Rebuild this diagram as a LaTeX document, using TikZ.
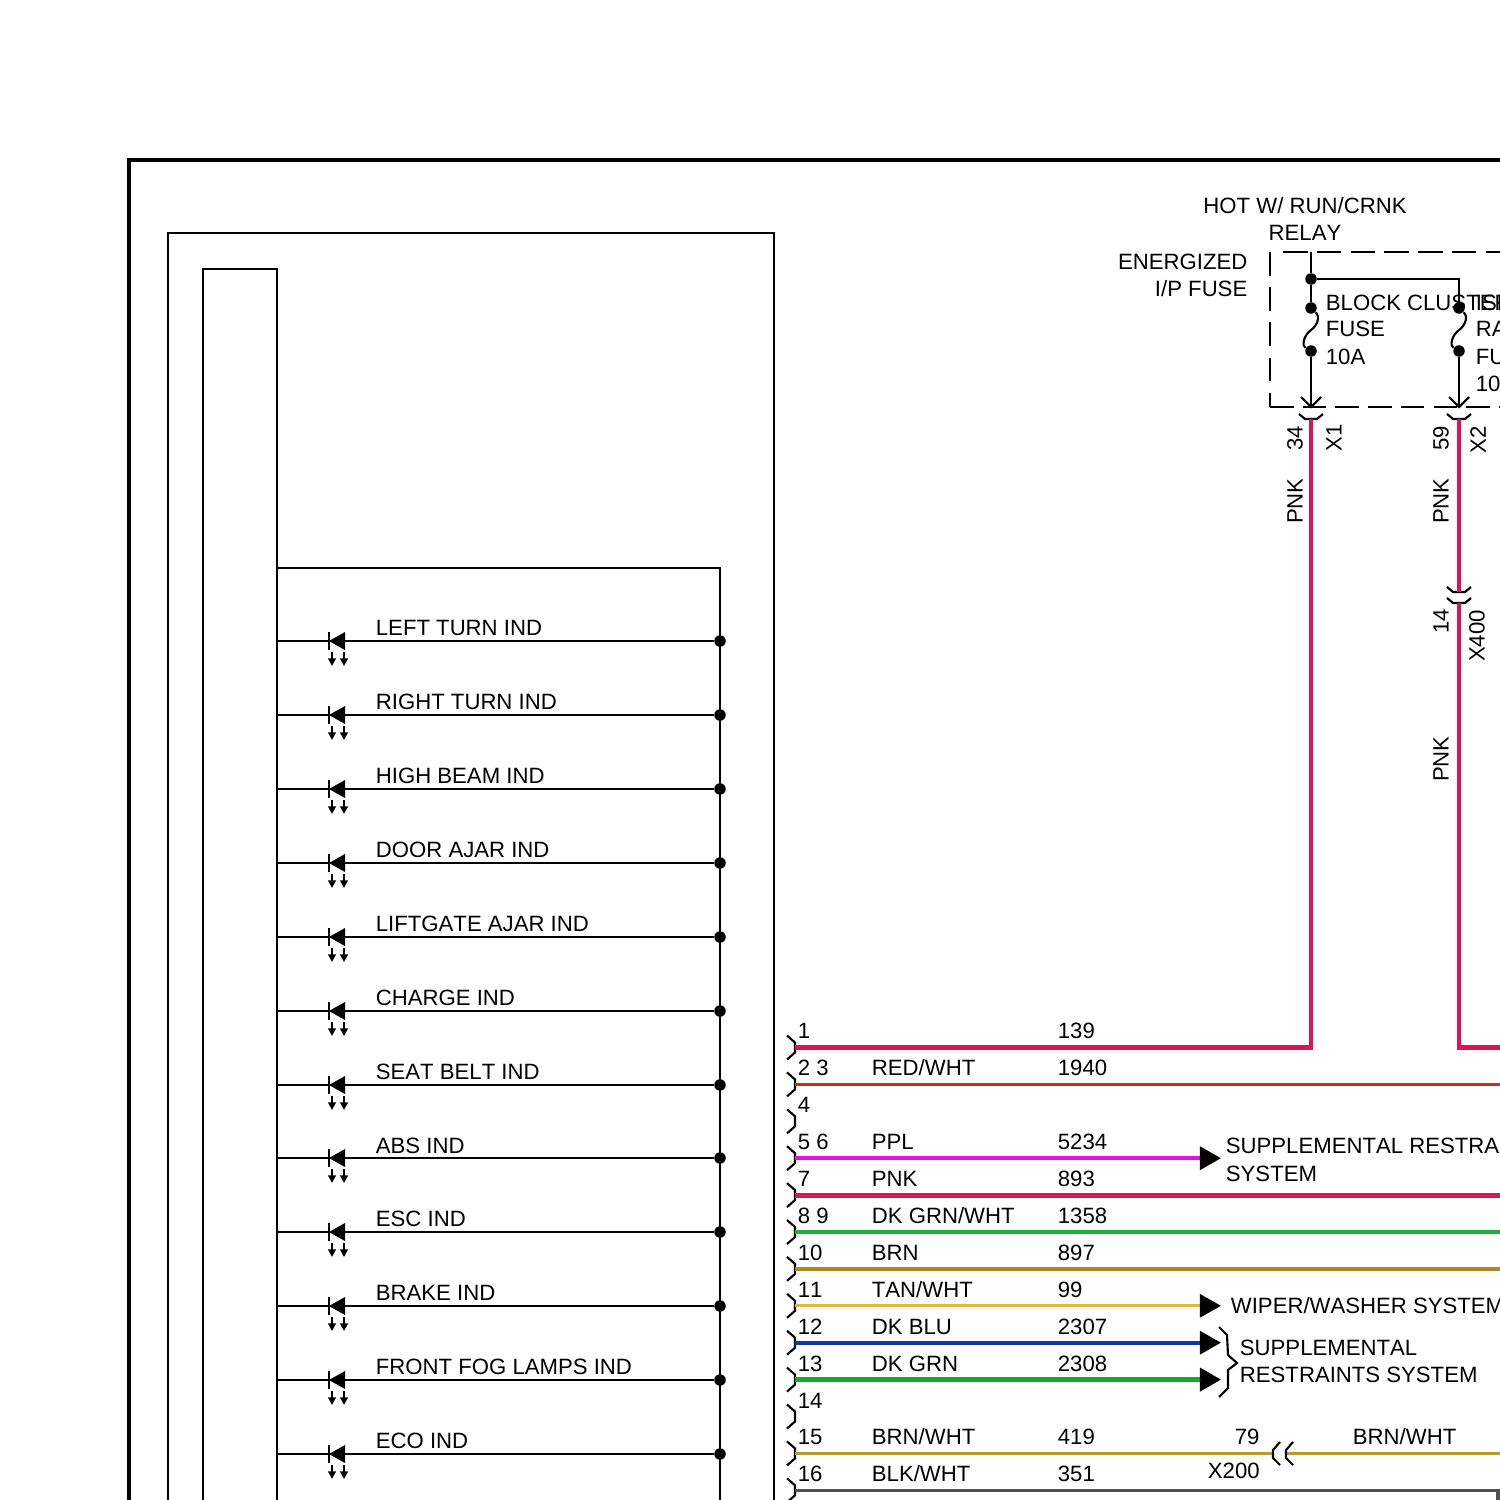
\documentclass[tikz,border=0pt]{standalone}
\usepackage{fontspec}
\setmainfont[Kerning=Off]{Liberation Sans}
\usepackage{tikz}
\usetikzlibrary{arrows.meta}
\definecolor{wirepnk}{HTML}{DC1457}
\definecolor{wirered}{HTML}{D42A1E}
\definecolor{wireppl}{HTML}{E014DC}
\definecolor{wiregrn}{HTML}{22B03C}
\definecolor{wirebrn}{HTML}{A8891E}
\definecolor{wiretan}{HTML}{E2B83C}
\definecolor{wireblu}{HTML}{0A3A9E}
\definecolor{wiredkg}{HTML}{12AE22}
\definecolor{wirebw}{HTML}{B59C32}
\definecolor{wireblk}{HTML}{505050}
\tikzset{lbl/.style={anchor=base west, inner sep=0, xshift=-0.008cm, font=\fontsize{6.3}{7.6}\selectfont}}
\tikzset{lblr/.style={lbl, anchor=base east, xshift=0.008cm}}
\tikzset{lblc/.style={lbl, anchor=base, xshift=0.008cm}}
\tikzset{vlbl/.style={inner sep=0, rotate=90, font=\fontsize{6.3}{7.6}\selectfont}}
\tikzset{dot/.style={circle, fill=black, inner sep=0, minimum size=0.115cm}}
\tikzset{line/.style={draw, line width=0.6pt}}
\tikzset{panel/.style={draw, line width=0.6pt, anchor=north west, inner sep=0}}
\tikzset{wire/.style={draw, line width=#1pt, line join=miter}}
\tikzset{to system/.style={-{Triangle[length=6pt, width=6.5pt, color=black]}}}
\tikzset{ledmark/.pic={
  \coordinate (-k) at (-8,0);
  \coordinate (-a) at (8,0);
  \fill (8,-9) -- (8,9) -- (-8,0) -- cycle;
  \draw[line] (-8,-9) -- (-8,9);
  \draw[line, -{Triangle[length=2.2pt, width=2.2pt]}] (-5,11) -- (-5,25);
  \draw[line, -{Triangle[length=2.2pt, width=2.2pt]}] (7,11) -- (7,25);
}}
\tikzset{pincap/.pic={
  \draw[line] (-8,-12) -- (0,-5) -- (0,5) -- (-8,12);
}}
\tikzset{cupcap/.pic={
  \draw[line] (-12,-5) -- (-6,0) -- (6,0) -- (12,-5);
}}
\tikzset{vmark/.pic={
  \draw[line] (-10,-10) -- (0,0) -- (10,-10);
}}

\begin{document}
\begin{tikzpicture}[x=0.01cm, y=-0.01cm]
  \useasboundingbox (0,0) rectangle (1500,1500);

  \draw[line width=1.2pt] (1600,160) -- (129,160) -- (129,1600);
  \node[panel, minimum width=6.06cm, minimum height=14cm] at (166.8,232) (panel) {};
  \node[panel, minimum width=0.74cm, minimum height=14cm] at (201.8,268) (cluster) {};

  % indicator bus
  \coordinate (bustop) at (720,568);
  \coordinate (busend) at (720,1600);
  \draw[line] (cluster.east |- bustop) -- (bustop) -- (busend);

  \node[dot] at (720,641) (j1) {};   \pic (d1) at (337,641) {ledmark};
  \draw[line] (j1) -- (d1-a);  \draw[line] (d1-k) -- (d1-k -| cluster.east);
  \node[lbl] at (376,635) (l1) {LEFT TURN IND};

  \node[dot] at (720,715) (j2) {};   \pic (d2) at (337,715) {ledmark};
  \draw[line] (j2) -- (d2-a);  \draw[line] (d2-k) -- (d2-k -| cluster.east);
  \node[lbl] at (376,709) (l2) {RIGHT TURN IND};

  \node[dot] at (720,789) (j3) {};   \pic (d3) at (337,789) {ledmark};
  \draw[line] (j3) -- (d3-a);  \draw[line] (d3-k) -- (d3-k -| cluster.east);
  \node[lbl] at (376,783) (l3) {HIGH BEAM IND};

  \node[dot] at (720,863) (j4) {};   \pic (d4) at (337,863) {ledmark};
  \draw[line] (j4) -- (d4-a);  \draw[line] (d4-k) -- (d4-k -| cluster.east);
  \node[lbl] at (376,857) (l4) {DOOR AJAR IND};

  \node[dot] at (720,937) (j5) {};   \pic (d5) at (337,937) {ledmark};
  \draw[line] (j5) -- (d5-a);  \draw[line] (d5-k) -- (d5-k -| cluster.east);
  \node[lbl] at (376,931) (l5) {LIFTGATE AJAR IND};

  \node[dot] at (720,1011) (j6) {};  \pic (d6) at (337,1011) {ledmark};
  \draw[line] (j6) -- (d6-a);  \draw[line] (d6-k) -- (d6-k -| cluster.east);
  \node[lbl] at (376,1005) (l6) {CHARGE IND};

  \node[dot] at (720,1085) (j7) {};  \pic (d7) at (337,1085) {ledmark};
  \draw[line] (j7) -- (d7-a);  \draw[line] (d7-k) -- (d7-k -| cluster.east);
  \node[lbl] at (376,1079) (l7) {SEAT BELT IND};

  \node[dot] at (720,1158) (j8) {};  \pic (d8) at (337,1158) {ledmark};
  \draw[line] (j8) -- (d8-a);  \draw[line] (d8-k) -- (d8-k -| cluster.east);
  \node[lbl] at (376,1153) (l8) {ABS IND};

  \node[dot] at (720,1232) (j9) {};  \pic (d9) at (337,1232) {ledmark};
  \draw[line] (j9) -- (d9-a);  \draw[line] (d9-k) -- (d9-k -| cluster.east);
  \node[lbl] at (376,1226) (l9) {ESC IND};

  \node[dot] at (720,1306) (j10) {}; \pic (d10) at (337,1306) {ledmark};
  \draw[line] (j10) -- (d10-a);  \draw[line] (d10-k) -- (d10-k -| cluster.east);
  \node[lbl] at (376,1300) (l10) {BRAKE IND};

  \node[dot] at (720,1380) (j11) {}; \pic (d11) at (337,1380) {ledmark};
  \draw[line] (j11) -- (d11-a);  \draw[line] (d11-k) -- (d11-k -| cluster.east);
  \node[lbl] at (376,1374) (l11) {FRONT FOG LAMPS IND};

  \node[dot] at (720,1454) (j12) {}; \pic (d12) at (337,1454) {ledmark};
  \draw[line] (j12) -- (d12-a);  \draw[line] (d12-k) -- (d12-k -| cluster.east);
  \node[lbl] at (376,1448) (l12) {ECO IND};

  % fuse block
  \draw[line, dash pattern=on 7pt off 2.6pt] (1283,252) -- (1600,252);
  \draw[line, dash pattern=on 6.7pt off 3.3pt] (1270,252) -- (1270,407);
  \draw[line, dash pattern=on 6.7pt off 2.6pt] (1270,407) -- (1600,407);
  \coordinate (feed) at (1311,252);
  \node[dot] at (1311,279) (tee) {};
  \coordinate (corner) at (1459,279);
  \node[dot] at (1311,308) (fa1) {};
  \node[dot] at (1311,351) (fa2) {};
  \node[dot] at (1459,308) (fb1) {};
  \node[dot] at (1459,351) (fb2) {};
  \coordinate (x1in) at (1311,407);
  \coordinate (x2in) at (1459,407);
  \draw[line] (feed) -- (tee);
  \draw[line] (tee) -- (fa1);
  \draw[line] (tee) -- (corner) -- (fb1);
  \draw[line] (fa1) .. controls (1320,316) and (1318,325) .. (1311,330) .. controls (1303,336) and (1302,346) .. (fa2);
  \draw[line] (fb1) .. controls (1468,316) and (1466,325) .. (1459,330) .. controls (1451,336) and (1450,346) .. (fb2);
  \draw[line] (fa2) -- (x1in);
  \draw[line] (fb2) -- (x2in);
  \pic at (x1in) {vmark};
  \pic at (x2in) {vmark};
  \coordinate (x1) at (1311,419);
  \coordinate (x2) at (1459,419);
  \coordinate (x400a) at (1459,592);
  \coordinate (x400b) at (1459,603);
  \pic at (x1) {cupcap};
  \pic at (x2) {cupcap};
  \pic at (x400a) {cupcap};
  \pic at (x400b) {cupcap};

  \node[lblc] at (1305,214) (hot) {HOT W/ RUN/CRNK};
  \node[lblc] at (1305,241) (relay) {RELAY};
  \node[lblr] at (1248,269) (ener) {ENERGIZED};
  \node[lblr] at (1248,296) (ipf) {I/P FUSE};
  \node[lbl] at (1326,310) (fa) {BLOCK CLUSTER};
  \node[lbl] at (1326,337) (fb) {FUSE};
  \node[lbl] at (1326,364) (fc) {10A};
  \node[lbl] at (1476,310) (ga) {ISI};
  \node[lbl] at (1476,337) (gb) {RA};
  \node[lbl] at (1476,364) (gc) {FUSE};
  \node[lbl] at (1476,391) (gd) {10A};
  \node[vlbl] at (1295,438) (n34) {34};
  \node[vlbl] at (1334,438) (nx1) {X1};
  \node[vlbl] at (1295,501) (np1) {PNK};
  \node[vlbl] at (1441,438) (n59) {59};
  \node[vlbl] at (1478,440) (nx2) {X2};
  \node[vlbl] at (1441,501) (np2) {PNK};
  \node[vlbl] at (1441,621) (n14) {14};
  \node[vlbl] at (1477,636) (nx4) {X400};
  \node[vlbl] at (1441,759) (np3) {PNK};

  % connector pins
  \coordinate (p1) at (795,1047.5);  \pic at (p1) {pincap};
  \coordinate (p2) at (795,1084.4);  \pic at (p2) {pincap};
  \coordinate (p4) at (795,1121.3);  \pic at (p4) {pincap};
  \coordinate (p5) at (795,1158.2);  \pic at (p5) {pincap};
  \coordinate (p7) at (795,1195.1);  \pic at (p7) {pincap};
  \coordinate (p8) at (795,1232);    \pic at (p8) {pincap};
  \coordinate (p10) at (795,1268.9); \pic at (p10) {pincap};
  \coordinate (p11) at (795,1305.8); \pic at (p11) {pincap};
  \coordinate (p12) at (795,1342.7); \pic at (p12) {pincap};
  \coordinate (p13) at (795,1379.6); \pic at (p13) {pincap};
  \coordinate (p14) at (795,1416.5); \pic at (p14) {pincap};
  \coordinate (p15) at (795,1453.4); \pic at (p15) {pincap};
  \coordinate (p16) at (795,1490.3); \pic at (p16) {pincap};

  \node[lbl] at (798,1038) (t1) {1};
  \node[lbl] at (798,1075) (t2) {2 3};
  \node[lbl] at (798,1112) (t4) {4};
  \node[lbl] at (798,1149) (t5) {5 6};
  \node[lbl] at (798,1186) (t7) {7};
  \node[lbl] at (798,1223) (t8) {8 9};
  \node[lbl] at (798,1260) (t10) {10};
  \node[lbl] at (798,1297) (t11) {11};
  \node[lbl] at (798,1334) (t12) {12};
  \node[lbl] at (798,1371) (t13) {13};
  \node[lbl] at (798,1408) (t14) {14};
  \node[lbl] at (798,1444) (t15) {15};
  \node[lbl] at (798,1481) (t16) {16};

  \node[lbl] at (872,1075) (c2) {RED/WHT};
  \node[lbl] at (872,1149) (c5) {PPL};
  \node[lbl] at (872,1186) (c7) {PNK};
  \node[lbl] at (872,1223) (c8) {DK GRN/WHT};
  \node[lbl] at (872,1260) (c10) {BRN};
  \node[lbl] at (872,1297) (c11) {TAN/WHT};
  \node[lbl] at (872,1334) (c12) {DK BLU};
  \node[lbl] at (872,1371) (c13) {DK GRN};
  \node[lbl] at (872,1444) (c15) {BRN/WHT};
  \node[lbl] at (872,1481) (c16) {BLK/WHT};

  \node[lbl] at (1058,1038) (w1) {139};
  \node[lbl] at (1058,1075) (w2) {1940};
  \node[lbl] at (1058,1149) (w5) {5234};
  \node[lbl] at (1058,1186) (w7) {893};
  \node[lbl] at (1058,1223) (w8) {1358};
  \node[lbl] at (1058,1260) (w10) {897};
  \node[lbl] at (1058,1297) (w11) {99};
  \node[lbl] at (1058,1334) (w12) {2307};
  \node[lbl] at (1058,1371) (w13) {2308};
  \node[lbl] at (1058,1444) (w15) {419};
  \node[lbl] at (1058,1481) (w16) {351};

  % wires
  \coordinate (e5) at (1221,1158.2);
  \coordinate (e11) at (1221,1305.8);
  \coordinate (e12) at (1221,1342.7);
  \coordinate (e13) at (1221,1379.6);
  \coordinate (c1) at (1311,1047.5);
  \coordinate (c2a) at (1459,1047.5);
  \coordinate (r2) at (1600,1047.5);
  \coordinate (r3) at (1600,1084.4);
  \coordinate (r7) at (1600,1195.1);
  \coordinate (r8) at (1600,1232);
  \coordinate (r10) at (1600,1268.9);
  \coordinate (x200a) at (1273,1453.4);
  \coordinate (x200b) at (1286,1453.4);
  \coordinate (r15) at (1600,1453.4);
  \coordinate (c16) at (1498,1490.3);
  \coordinate (r16) at (1498,1600);
  \draw[wire=1.4, wirepnk] (x1) -- (c1) -- (p1);
  \draw[wire=1.4, wirepnk] (x2) -- (x400a);
  \draw[wire=1.4, wirepnk] (x400b) -- (c2a) -- (r2);
  \draw[wire=0.9, wirered] (p2) -- (r3);
  \draw[wire=1.1, wireppl, to system] (p5) -- (e5);
  \draw[wire=1.4, wirepnk] (p7) -- (r7);
  \draw[wire=1, wiregrn] (p8) -- (r8);
  \draw[wire=1.1, wirebrn] (p10) -- (r10);
  \draw[wire=0.9, wiretan, to system] (p11) -- (e11);
  \draw[wire=1.1, wireblu, to system] (p12) -- (e12);
  \draw[wire=1.3, wiredkg, to system] (p13) -- (e13);
  \draw[wire=1, wirebw] (p15) -- (x200a);
  \draw[wire=1, wirebw] (x200b) -- (r15);
  \draw[wire=1, wireblk] (p16) -- (c16) -- (r16);

  % X200 and the far labels
  \draw[line] (1280,1442) -- (1273,1450) -- (1273,1458) -- (1280,1465);
  \draw[line] (1293,1442) -- (1286,1450) -- (1286,1458) -- (1293,1465);
  \draw[line] (1219,1327) -- (1227,1335) -- (1228,1355) -- (1237,1363) -- (1228,1370) -- (1228,1388) -- (1219,1397);
  \node[lbl] at (1235,1444) (t79) {79};
  \node[lbl] at (1208,1478) (tx200) {X200};
  \node[lbl] at (1353,1444) (tbw) {BRN/WHT};
  \node[lbl] at (1226,1153) (s1) {SUPPLEMENTAL RESTRAINTS};
  \node[lbl] at (1226,1181) (s2) {SYSTEM};
  \node[lbl] at (1231,1313) (s3) {WIPER/WASHER SYSTEM};
  \node[lbl] at (1240,1355) (s4) {SUPPLEMENTAL};
  \node[lbl] at (1240,1382) (s5) {RESTRAINTS SYSTEM};
\end{tikzpicture}
\end{document}
